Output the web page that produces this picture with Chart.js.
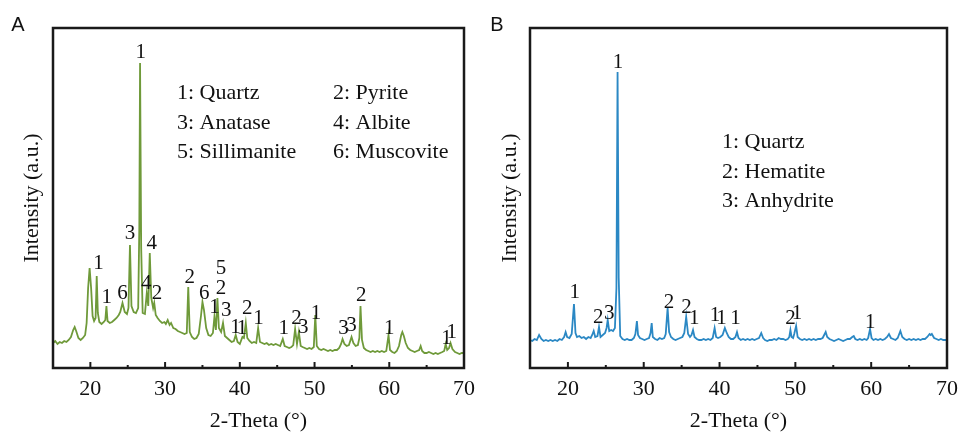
<!DOCTYPE html>
<html>
<head>
<meta charset="utf-8">
<script src="https://cdn.jsdelivr.net/npm/chart.js@4"></script>
<style>
  html, body { margin: 0; padding: 0; background: #fff; }
  .panel { position: absolute; top: 0; width: 483px; height: 437px; }
</style>
</head>
<body>
<div class="panel" style="left:0"><canvas id="chartA"></canvas></div>
<div class="panel" style="left:483px"><canvas id="chartB"></canvas></div>
<script>
// XRD scans: [2-theta, intensity (a.u.)]
var scanA = [
  [15.0,25],[15.3,27],[15.6,24],[15.9,26],[16.2,25],[16.5,27],[16.8,26],[17.1,28],[17.4,31],[17.7,38],
  [17.9,41],[18.1,37],[18.4,30],[18.7,28],[19.0,30],[19.3,33],[19.5,45],[19.7,80],[19.9,100],[20.1,80],
  [20.3,52],[20.5,47],[20.7,50],[20.85,92],[21.0,55],[21.2,46],[21.5,44],[21.8,46],[22.0,48],[22.15,62],
  [22.3,47],[22.6,45],[22.9,46],[23.2,48],[23.5,50],[23.8,53],[24.0,56],[24.3,65],[24.6,56],[24.9,54],
  [25.1,60],[25.3,123],[25.5,62],[25.8,56],[26.1,55],[26.4,60],[26.55,140],[26.65,305],[26.8,120],[27.0,55],
  [27.3,54],[27.55,75],[27.75,62],[27.95,115],[28.15,70],[28.4,60],[28.55,65],[28.75,53],[29.0,50],[29.3,47],
  [29.6,45],[29.9,46],[30.1,44],[30.35,48],[30.6,43],[30.8,45],[31.1,40],[31.4,39],[31.7,37],[32.0,36],
  [32.3,35],[32.6,34],[32.9,35],[33.1,81],[33.3,36],[33.6,31],[33.9,29],[34.2,30],[34.5,34],[34.8,52],
  [35.0,66],[35.2,58],[35.5,40],[35.8,33],[36.1,32],[36.4,35],[36.6,51],[36.8,38],[37.0,70],[37.2,40],
  [37.5,36],[37.75,45],[38.0,32],[38.3,30],[38.6,28],[38.9,26],[39.2,27],[39.45,33],[39.7,26],[40.0,24],
  [40.35,31],[40.55,30],[40.8,45],[41.0,30],[41.3,27],[41.6,25],[41.9,26],[42.2,25],[42.45,40],[42.7,26],
  [43.0,25],[43.3,24],[43.6,25],[43.9,23],[44.2,24],[44.5,23],[44.8,24],[45.1,23],[45.4,22],[45.75,29],
  [46.0,22],[46.3,21],[46.6,20],[46.9,21],[47.15,23],[47.4,39],[47.65,24],[47.9,36],[48.15,22],[48.4,21],
  [48.7,20],[49.0,19],[49.3,20],[49.6,19],[49.9,21],[50.1,53],[50.3,22],[50.6,19],[50.9,18],[51.2,19],
  [51.5,18],[51.8,17],[52.1,18],[52.4,17],[52.7,18],[53.0,18],[53.3,20],[53.55,24],[53.75,29],[54.0,24],
  [54.3,22],[54.6,23],[54.95,31],[55.2,25],[55.5,22],[55.8,23],[56.0,30],[56.15,62],[56.35,28],[56.6,20],
  [56.9,18],[57.2,17],[57.5,16],[57.8,17],[58.1,16],[58.4,17],[58.7,16],[59.0,17],[59.3,16],[59.6,17],
  [59.9,33],[60.1,18],[60.4,16],[60.7,15],[61.0,17],[61.3,22],[61.6,33],[61.75,36],[61.95,32],[62.2,25],
  [62.5,20],[62.8,18],[63.1,17],[63.4,16],[63.7,17],[64.0,18],[64.2,22],[64.4,17],[64.7,15],[65.0,15],
  [65.3,16],[65.6,15],[65.9,14],[66.2,15],[66.5,14],[66.8,15],[67.1,16],[67.35,17],[67.55,24],[67.75,18],
  [68.0,20],[68.2,25],[68.45,19],[68.8,16],[69.1,15],[69.4,14],[69.7,15],[70.0,15]
];

var scanB = [
  [15.0,28],[15.3,27],[15.6,29],[15.9,28],[16.2,33],[16.5,29],[16.8,27],[17.1,28],[17.4,27],[17.7,28],
  [18.0,27],[18.3,28],[18.6,27],[18.9,29],[19.2,28],[19.5,31],[19.7,36],[19.9,31],[20.2,30],[20.5,34],
  [20.8,64],[21.0,35],[21.2,31],[21.5,32],[21.8,30],[22.1,31],[22.4,29],[22.7,31],[23.0,30],[23.2,33],
  [23.4,37],[23.6,31],[23.9,32],[24.1,41],[24.3,31],[24.6,33],[24.9,35],[25.1,40],[25.25,48],[25.45,37],
  [25.7,38],[25.95,37],[26.2,40],[26.4,80],[26.55,296],[26.7,90],[26.9,32],[27.2,29],[27.5,28],[27.8,29],
  [28.1,28],[28.4,28],[28.7,30],[28.9,34],[29.1,47],[29.25,33],[29.5,30],[29.8,29],[30.1,28],[30.4,29],
  [30.7,30],[30.9,35],[31.05,45],[31.2,31],[31.5,29],[31.8,28],[32.1,30],[32.4,29],[32.7,30],[32.9,34],
  [33.15,60],[33.35,36],[33.6,31],[33.9,29],[34.2,28],[34.5,29],[34.8,30],[35.1,31],[35.35,35],[35.6,51],
  [35.85,34],[36.1,31],[36.3,33],[36.5,38],[36.7,31],[37.0,29],[37.3,28],[37.6,28],[37.9,29],[38.2,28],
  [38.5,29],[38.8,28],[39.1,30],[39.35,40],[39.55,31],[39.8,30],[40.1,31],[40.4,33],[40.7,40],[40.95,35],
  [41.2,31],[41.5,29],[41.8,29],[42.1,31],[42.3,36],[42.5,30],[42.8,28],[43.1,29],[43.4,28],[43.7,29],
  [44.0,28],[44.3,29],[44.6,28],[44.9,29],[45.2,30],[45.5,35],[45.75,30],[46.0,28],[46.3,27],[46.6,28],
  [46.9,28],[47.2,29],[47.5,28],[47.8,30],[48.1,29],[48.4,29],[48.7,28],[49.0,29],[49.2,31],[49.35,38],
  [49.5,31],[49.7,30],[49.85,34],[50.1,42],[50.3,31],[50.6,29],[50.9,28],[51.2,29],[51.5,28],[51.8,29],
  [52.1,28],[52.4,29],[52.7,28],[53.0,29],[53.3,29],[53.6,30],[53.8,33],[54.0,36],[54.2,31],[54.5,29],
  [54.8,28],[55.1,27],[55.4,28],[55.7,29],[56.0,28],[56.3,27],[56.6,28],[56.9,29],[57.2,29],[57.5,31],
  [57.7,32],[57.9,29],[58.2,28],[58.5,29],[58.8,28],[59.1,29],[59.4,28],[59.6,30],[59.85,39],[60.05,30],
  [60.3,28],[60.6,29],[60.9,28],[61.2,29],[61.5,28],[61.8,29],[62.1,31],[62.35,34],[62.6,30],[62.9,29],
  [63.2,28],[63.5,30],[63.85,37],[64.1,31],[64.4,29],[64.7,28],[65.0,29],[65.3,28],[65.6,29],[65.9,28],
  [66.2,29],[66.5,28],[66.8,29],[67.1,29],[67.4,31],[67.7,34],[67.85,33],[68.0,34],[68.3,30],[68.6,29],
  [68.9,28],[69.2,29],[69.5,28],[69.8,28],[70.0,28]
];

// peak markers: [phase number, 2-theta, intensity where the number sits]
var peaksA = [
  ['1',26.73,316],['1',21.08,105],['1',22.2,71],['6',24.3,75],['3',25.3,135],['4',28.2,125],
  ['4',27.47,85],['2',28.93,75],['2',33.3,91],['6',35.23,75],['5',37.47,100],['2',37.47,80],
  ['1',36.6,61],['3',38.2,58],['1',39.42,41],['1',40.28,40],['2',41.0,60],['1',42.5,50],
  ['1',45.88,40],['2',47.6,50],['3',48.5,41],['1',50.2,55],['3',53.87,40],['3',54.95,43],
  ['2',56.24,73],['1',60.0,40],['1',67.67,30],['1',68.36,36]
];
var peaksB = [
  ['1',26.62,306],['1',20.91,76],['2',24.0,51],['3',25.45,55],['2',33.33,66],['2',35.63,61],
  ['1',36.67,50],['1',39.4,53],['1',40.26,50],['1',42.12,50],['2',49.35,50],['1',50.22,55],
  ['1',59.87,46]
];

var phasesA = ['1: Quartz', '2: Pyrite', '3: Anatase', '4: Albite', '5: Sillimanite', '6: Muscovite'];
var phasesB = ['1: Quartz', '2: Hematite', '3: Anhydrite'];

var xMajorTicks = [20, 30, 40, 50, 60, 70];
var xMinorTicks = [25, 35, 45, 55, 65];

var SERIF = '"Liberation Serif", "Times New Roman", serif';

function toPoints(scan) {
  return scan.map(function (p) { return { x: p[0], y: p[1] }; });
}

// frame, inward ticks, peak numbers, phase list and panel letter
var decorPlugin = {
  id: 'decor',
  afterDraw: function (chart) {
    var o = chart.options.plugins.decor;
    var ctx = chart.ctx, a = chart.chartArea;
    var xs = chart.scales.x, ys = chart.scales.y;
    ctx.save();
    ctx.strokeStyle = '#1a1a1a';
    ctx.lineWidth = 2.5;
    ctx.strokeRect(a.left, a.top, a.right - a.left, a.bottom - a.top);

    ctx.lineWidth = 2;
    xMajorTicks.forEach(function (v) {
      var p = xs.getPixelForValue(v);
      ctx.beginPath(); ctx.moveTo(p, a.bottom); ctx.lineTo(p, a.bottom - 6); ctx.stroke();
    });
    xMinorTicks.forEach(function (v) {
      var p = xs.getPixelForValue(v);
      ctx.beginPath(); ctx.moveTo(p, a.bottom); ctx.lineTo(p, a.bottom - 3); ctx.stroke();
    });

    ctx.fillStyle = '#111';
    ctx.font = '21px ' + SERIF;
    ctx.textAlign = 'center';
    ctx.textBaseline = 'middle';
    o.peaks.forEach(function (p) {
      ctx.fillText(p[0], xs.getPixelForValue(p[1]), ys.getPixelForValue(p[2]));
    });

    ctx.font = '22px ' + SERIF;
    ctx.textAlign = 'left';
    o.phases.forEach(function (t, i) {
      var col = o.cols[i % o.cols.length];
      var row = o.rows[Math.floor(i / o.cols.length)];
      ctx.fillText(t, a.left + col, a.top + row);
    });

    ctx.font = '20px "Liberation Sans", Arial, sans-serif';
    ctx.textAlign = 'center';
    ctx.fillText(o.letter, o.letterX, 25);
    ctx.restore();
  }
};

function makeChart(id, scan, color, decor, yWidth, yTitlePad, rightPad) {
  return new Chart(document.getElementById(id), {
    type: 'line',
    data: {
      datasets: [{
        data: toPoints(scan),
        borderColor: color,
        borderWidth: 1.8,
        pointRadius: 0,
        tension: 0,
        fill: false
      }]
    },
    options: {
      responsive: true,
      maintainAspectRatio: false,
      animation: false,
      layout: { padding: { top: 28, right: rightPad, left: 0, bottom: 0 } },
      plugins: { legend: { display: false }, tooltip: { enabled: false }, decor: decor },
      scales: {
        x: {
          type: 'linear', min: 15, max: 70,
          afterBuildTicks: function (s) { s.ticks = xMajorTicks.map(function (v) { return { value: v }; }); },
          afterFit: function (s) { s.height = 69; },
          grid: { display: false, drawTicks: false },
          border: { display: false },
          ticks: { color: '#111', font: { family: SERIF, size: 22 }, padding: 8, maxRotation: 0, autoSkip: false },
          title: { display: true, text: '2-Theta (°)', color: '#111', font: { family: SERIF, size: 22 }, padding: { top: 0, bottom: 3 } }
        },
        y: {
          type: 'linear', min: 0, max: 340,
          afterFit: function (s) { s.width = yWidth; },
          grid: { display: false, drawTicks: false },
          border: { display: false },
          ticks: { display: false },
          title: { display: true, text: 'Intensity (a.u.)', color: '#111', font: { family: SERIF, size: 22 }, padding: { top: yTitlePad, bottom: 0 } }
        }
      }
    },
    plugins: [decorPlugin]
  });
}

makeChart('chartA', scanA, '#6f9a3a',
  { peaks: peaksA, phases: phasesA, cols: [124, 280], rows: [65, 95, 124], letter: 'A', letterX: 18 },
  53, 19, 5);
makeChart('chartB', scanB, '#2b88c4',
  { peaks: peaksB, phases: phasesB, cols: [192], rows: [114, 144, 173], letter: 'B', letterX: 14 },
  47, 14, 12);
</script>
</body>
</html>
